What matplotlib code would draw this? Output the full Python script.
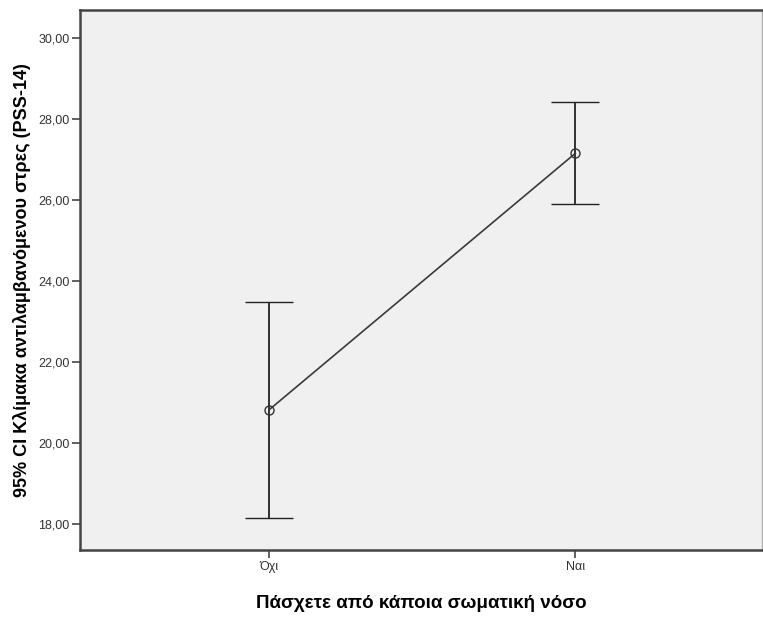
import numpy as np
import matplotlib.pyplot as plt
from matplotlib.ticker import FuncFormatter

plt.rcParams['font.family'] = ['Liberation Sans', 'DejaVu Sans']

# Datos
categorias = ["Όχι", "Ναι"]
media = [20.82, 27.15]
ci_inf = [18.15, 25.90]
ci_sup = [23.48, 28.42]

x_pos = np.arange(len(categorias))
media = np.array(media)
err = np.array([media - np.array(ci_inf), np.array(ci_sup) - media])

fig = plt.figure(figsize=(7.63, 6.23), dpi=100)
ax = fig.add_axes([0.1055, 0.1172, 0.8932, 0.8668])
ax.set_facecolor("#F0F0F0")

ax.errorbar(x_pos, media, yerr=err, fmt='-o', color="#3a3a3a", ecolor="#222222",
            elinewidth=1.3, capsize=17.5, capthick=1.5, linewidth=1.2,
            markersize=6.5, markerfacecolor="none", markeredgecolor="#333333",
            markeredgewidth=1.0)

ax.set_xlim(-0.616, 1.61)
ax.set_ylim(17.36, 30.69)
ax.set_yticks(np.arange(18, 31, 2))
ax.yaxis.set_major_formatter(FuncFormatter(lambda v, p: f"{v:.2f}".replace(".", ",")))
ax.set_xticks(x_pos)
ax.set_xticklabels(categorias)

for lado in ["left", "bottom", "top"]:
    ax.spines[lado].set_color("#444444")
    ax.spines[lado].set_linewidth(1.8)
ax.spines["right"].set_color("#b0b0b0")
ax.spines["right"].set_linewidth(1.0)

ax.tick_params(axis="both", direction="out", length=6, width=1.2, color="#444444",
               labelsize=9, labelcolor="#333333", pad=2)

ax.set_xlabel("Πάσχετε από κάποια σωματική νόσο", fontsize=13.5, fontweight="bold",
              labelpad=16)
ax.set_ylabel("95% CI Κλίμακα αντιλαμβανόμενου στρες (PSS-14)", fontsize=13,
              fontweight="bold", labelpad=5)

fig.savefig("out.png", dpi=100)
